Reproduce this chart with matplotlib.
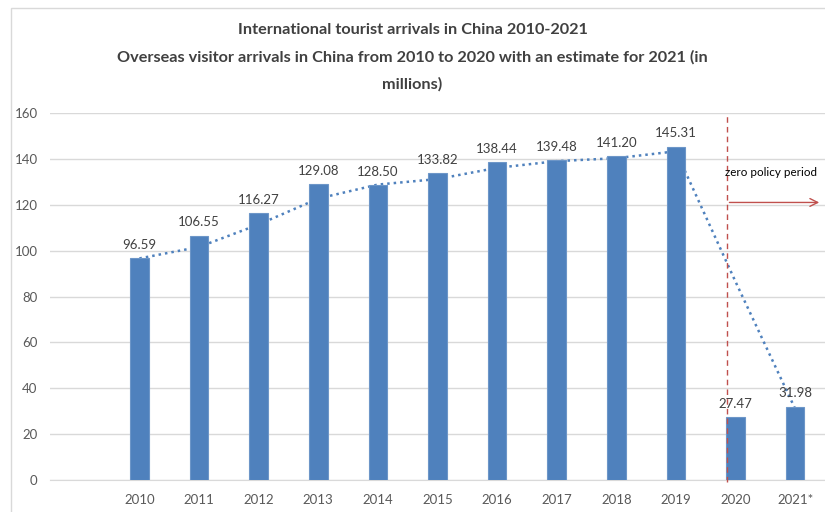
import matplotlib.pyplot as plt
from matplotlib.patches import Rectangle
import numpy as np

plt.rcParams['font.family'] = ['Lato', 'DejaVu Sans']

# Arrivals in millions
years = ['2010', '2011', '2012', '2013', '2014', '2015', '2016', '2017',
         '2018', '2019', '2020', '2021*']
arrivals = [96.59, 106.55, 116.27, 129.08, 128.50, 133.82, 138.44, 139.48,
            141.20, 145.31, 27.47, 31.98]
trend = [96.6, 101.6, 111.4, 122.7, 128.8, 131.2, 136.1, 139.0, 140.3, 143.3,
         86.4, 31.0]

BAR_COLOR = '#4F81BD'
TEXT_COLOR = '#404040'
TICK_COLOR = '#595959'

fig = plt.figure(figsize=(8.25, 5.12), dpi=100)
ax = fig.add_axes([50 / 825, 1 - 480 / 512, 1 - 50 / 825, (480 - 113) / 512])

x = np.arange(len(years))
ax.plot(x, trend, color=BAR_COLOR, linestyle=(0, (1, 1.6)), linewidth=1.8, zorder=2)
ax.bar(x, arrivals, width=0.31, color=BAR_COLOR, edgecolor='#6D96C8',
       linewidth=0.8, zorder=3)

for xi, v in zip(x, arrivals):
    ax.text(xi, v + 3.2, f'{v:.2f}', ha='center', va='bottom', fontsize=9.5,
            color=TEXT_COLOR, zorder=4)

ax.set_xlim(-1.5, 11.5)
ax.set_ylim(0, 160)
ax.set_yticks(range(0, 161, 20))
ax.set_xticks(x)
ax.set_xticklabels(years)
ax.tick_params(axis='both', length=0, labelsize=9.5, labelcolor=TICK_COLOR)
ax.tick_params(axis='y', pad=9)
ax.tick_params(axis='x', pad=10)
ax.grid(axis='y', color='#D9D9D9', linewidth=1)
ax.set_axisbelow(True)
for side in ['top', 'right', 'left']:
    ax.spines[side].set_visible(False)
ax.spines['bottom'].set_color('#D9D9D9')

# zero-covid policy marker
ax.plot([9.85, 9.85], [-1, 160], color='#C0504D', linestyle=(0, (4, 3)),
        linewidth=1, clip_on=False, zorder=5)
ax.annotate('', xy=(11.45, 121), xytext=(9.85, 121),
            arrowprops=dict(arrowstyle='->', color='#C0504D', lw=1,
                            mutation_scale=14), zorder=5)
ax.text(9.83, 134, 'zero policy period', fontsize=8.4, color='black',
        ha='left', va='center', zorder=5)

title_lines = ['International tourist arrivals in China 2010-2021',
               'Overseas visitor arrivals in China from 2010 to 2020 with an estimate for 2021 (in',
               'millions)']
for y_px, line in zip([30, 57, 84], title_lines):
    fig.text(0.5, 1 - y_px / 512, line, ha='center', va='center', fontsize=11.7,
             fontweight='bold', color=TEXT_COLOR)

# chart frame
fig.patches.append(Rectangle((11 / 825, -0.1), 1.2, 1 - 8 / 512 + 0.1,
                             transform=fig.transFigure, fill=False,
                             edgecolor='#D9D9D9', linewidth=1))

fig.savefig('out.png', dpi=100)
